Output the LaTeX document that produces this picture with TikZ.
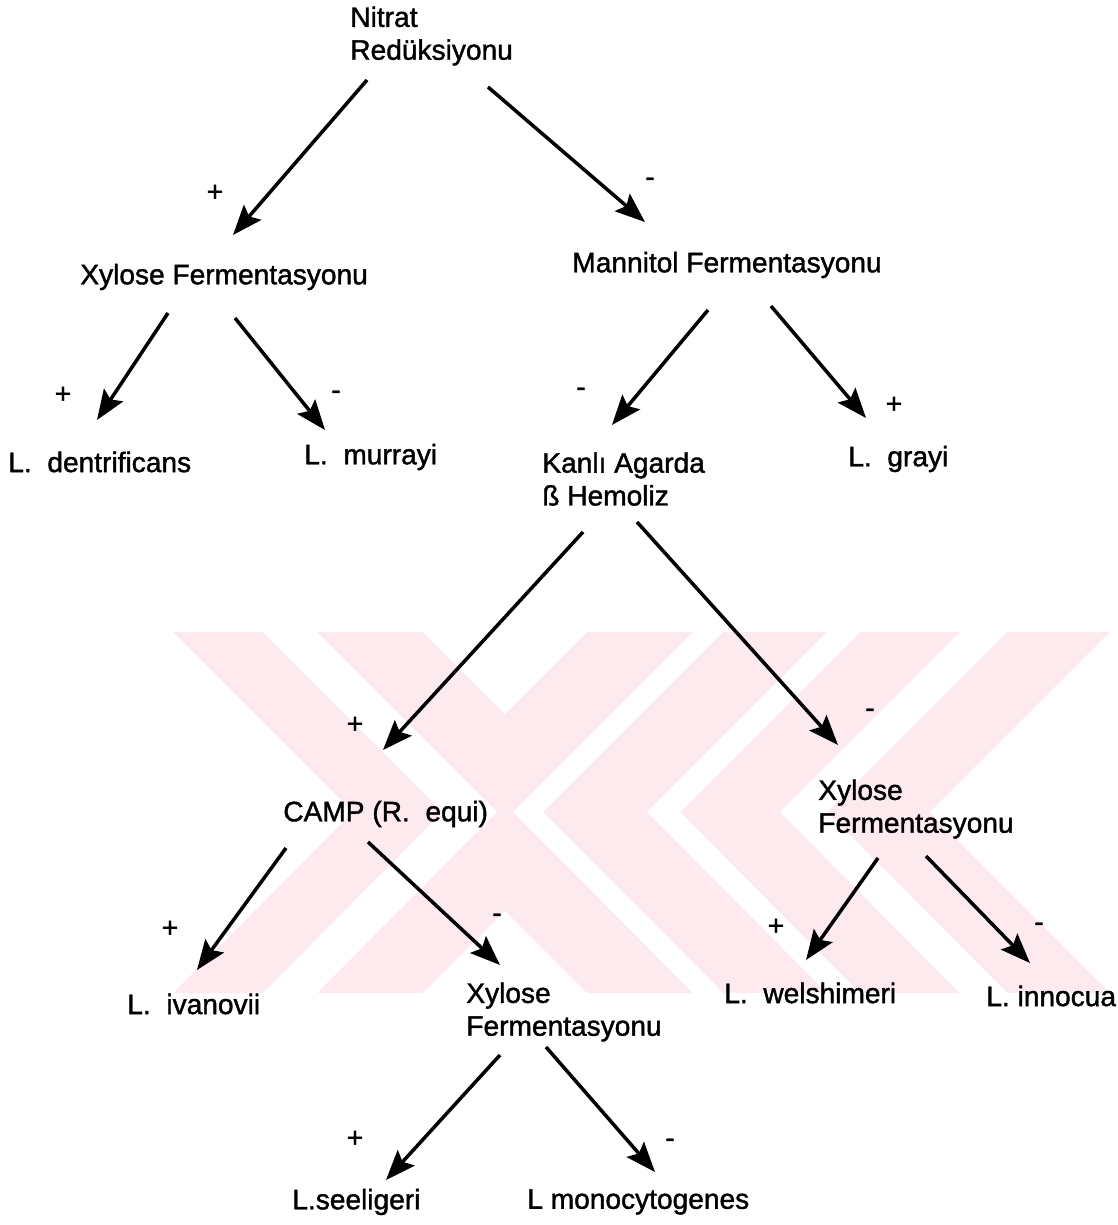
\documentclass[tikz,border=0pt]{standalone}
\usepackage{fontspec}
\setmainfont{Liberation Sans}[UprightFeatures={FakeBold=1.4}]
\usetikzlibrary{arrows.meta, calc}
\definecolor{wmpink}{RGB}{253, 234, 238}
\tikzstyle{taxon} = [
    inner sep=0pt,
    anchor=west,
    align=left,
    font=\fontsize{16}{18.7}\selectfont
]
\tikzstyle{sign} = [
    inner sep=0pt,
    font=\fontsize{16}{18.7}\selectfont
]
\tikzstyle{arrow} = [
    line width=2pt,
    -{Stealth[length=17pt, width=13pt, inset=3pt]},
    color=black
]

\begin{document}
\begin{tikzpicture}[x=0.02cm, y=-0.02cm]
        \useasboundingbox (0,0) rectangle (1118,1225);

        % Watermark
        \fill[wmpink] (173,632) rectangle (1110,993);
        \fill[white] (173,632) -- (353,812) -- (173,993) -- cycle;
        \fill[white] (263,632) -- (317,632) -- (497,812) -- (317,993) -- (263,993) -- (443,812) -- cycle;
        \fill[white] (423,632) -- (587,632) -- (505,714) -- cycle;
        \fill[white] (423,993) -- (587,993) -- (505,911) -- cycle;
        \foreach \a/\b in {693/723, 827/860, 960/1007}
            \fill[white] (\a,632) -- (\b,632) -- ({\b-180},812) -- (\b,993) -- (\a,993) -- ({\a-180},812) -- cycle;
        \fill[white] (1110,632) -- (930,812) -- (1110,993) -- cycle;

        % Tests and species
        \node[taxon] (nitrat) at (350,36) {Nitrat\\Redüksiyonu};
        \node[taxon] (xylA) at (80,277) {Xylose Fermentasyonu};
        \node[taxon] (mann) at (572,265) {Mannitol Fermentasyonu};
        \node[taxon] (dentr) at (8,462) {L.~~dentrificans};
        \node[taxon] (murr) at (304,457) {L.~~murrayi};
        \node[taxon] (kanli) at (542,479) {Kanlı Agarda\\ß Hemoliz};
        \node[taxon] (grayi) at (848,459) {L.~~grayi};
        \node[taxon] (camp) at (283,814) {CAMP (R.~~equi)};
        \node[taxon] (xylB) at (818,809) {Xylose\\Fermentasyonu};
        \node[taxon] (ivan) at (127,1004) {L.~~ivanovii};
        \node[taxon] (xylC) at (466,1012) {Xylose\\Fermentasyonu};
        \node[taxon] (welsh) at (724,993) {L.~~welshimeri};
        \node[taxon] (innoc) at (986,996) {L. innocua};
        \node[taxon] (seel) at (292,1202) {L.seeligeri};
        \node[taxon] (mono) at (527,1202) {L monocytogenes};

        % Signs
        \node[sign] (s1) at (215,193) {+};
        \node[sign] (s2) at (650,182) {-};
        \node[sign] (s3) at (63,395) {+};
        \node[sign] (s4) at (336,395) {-};
        \node[sign] (s5) at (581,392) {-};
        \node[sign] (s6) at (894,405) {+};
        \node[sign] (s7) at (355,725) {+};
        \node[sign] (s8) at (870,713) {-};
        \node[sign] (s9) at (170,929) {+};
        \node[sign] (s10) at (497,918) {-};
        \node[sign] (s11) at (776,927) {+};
        \node[sign] (s12) at (1039,927) {-};
        \node[sign] (s13) at (355,1139) {+};
        \node[sign] (s14) at (670,1143) {-};

        % Arrows
        \draw[arrow] ($(nitrat.west)+(17,44)$) -- ($(xylA.west)+(153,-42)$);
        \draw[arrow] ($(nitrat.west)+(138,51)$) -- ($(mann.west)+(73,-43)$);
        \draw[arrow] ($(xylA.west)+(88,36)$) -- ($(dentr.west)+(89,-42)$);
        \draw[arrow] ($(xylA.west)+(155,41)$) -- ($(murr.west)+(21,-27)$);
        \draw[arrow] ($(mann.west)+(136,45)$) -- ($(kanli.west)+(70,-54)$);
        \draw[arrow] ($(mann.west)+(199,41)$) -- ($(grayi.west)+(18,-41)$);
        \draw[arrow] ($(kanli.west)+(41,53)$) -- ($(camp.west)+(100,-64)$);
        \draw[arrow] ($(kanli.west)+(95,43)$) -- ($(xylB.west)+(20,-64)$);
        \draw[arrow] ($(camp.west)+(3,34)$) -- ($(ivan.west)+(70,-34)$);
        \draw[arrow] ($(camp.west)+(85,28)$) -- ($(xylC.west)+(34,-47)$);
        \draw[arrow] ($(xylB.west)+(60,49)$) -- ($(welsh.west)+(82,-33)$);
        \draw[arrow] ($(xylB.west)+(108,47)$) -- ($(innoc.west)+(44,-33)$);
        \draw[arrow] ($(xylC.west)+(34,43)$) -- ($(seel.west)+(94,-22)$);
        \draw[arrow] ($(xylC.west)+(80,35)$) -- ($(mono.west)+(128,-30)$);
    \end{tikzpicture}
\end{document}
